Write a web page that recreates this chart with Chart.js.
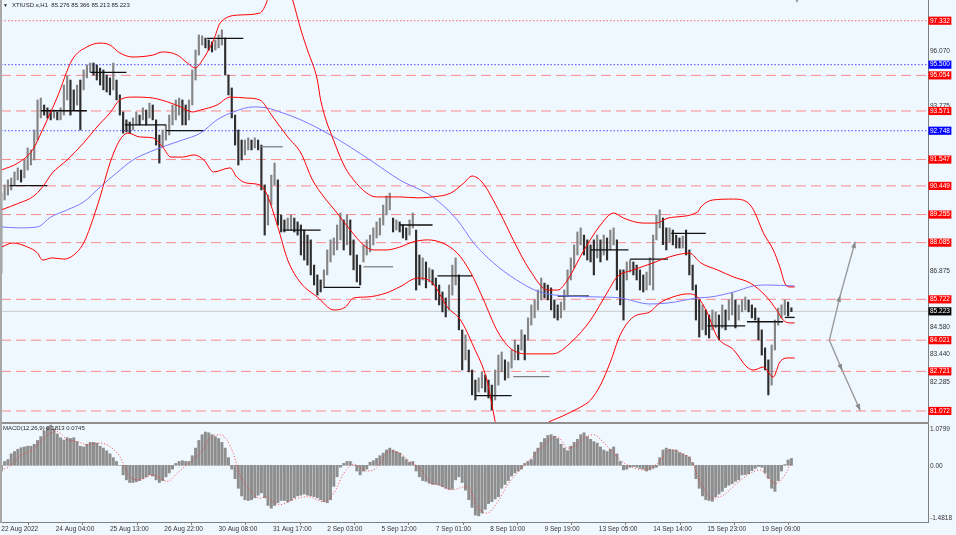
<!DOCTYPE html>
<html><head><meta charset="utf-8">
<script src="https://cdn.jsdelivr.net/npm/chart.js@4.4.1/dist/chart.umd.min.js"></script>
<style>
html,body{margin:0;padding:0;background:#f0f8ff;}
#wrap{position:relative;width:956px;height:535px;background:#f0f8ff;overflow:hidden;font-family:"Liberation Sans",Arial,sans-serif;}
canvas{position:absolute;left:0;}
#c1{top:0;}
#c2{top:424px;}
#sep{position:absolute;left:0;top:422px;width:929px;height:2px;background:#8f8f8f;}
#lb{position:absolute;left:0;top:0;width:2px;height:523px;background:#a8a8a8;}
#hdr{position:absolute;left:12px;top:1px;font-size:6px;line-height:8px;color:#1e1e1e;white-space:pre;}
#tri{position:absolute;left:3px;top:1px;font-size:5px;line-height:8px;color:#1e1e1e;}
#shift{position:absolute;left:794px;top:-3px;font-size:6px;line-height:8px;color:#a0a0a0;}
#mlab{position:absolute;left:3px;top:424px;font-size:6px;line-height:8px;color:#1e1e1e;white-space:pre;}
</style></head>
<body><div id="wrap">
<canvas id="c1" width="956" height="422"></canvas>
<canvas id="c2" width="956" height="111"></canvas>
<div id="sep"></div><div id="lb"></div>
<div id="tri">▼</div>
<div id="hdr">XTIUSD.s,H1  85.276 85.366 85.213 85.223</div>
<div id="shift">▼</div>
<div id="mlab">MACD(12,26,9) 0.1813 0.0745</div>
</div>
<script>
// ---- price bars (one bar every 2 hours, index t in H1 bars) ----
const barHigh = [
90.15,90.49,90.70,90.78,91.03,91.20,91.11,91.53,92.03,91.95,
92.78,94.03,94.11,93.82,93.70,93.61,93.61,93.53,93.70,94.65,
95.03,94.86,94.45,94.65,94.86,95.28,95.49,95.57,95.57,95.49,
95.36,95.28,95.07,94.95,95.57,94.86,94.24,93.53,93.20,93.11,
93.28,93.53,93.40,93.70,93.61,93.90,93.82,93.20,92.57,92.78,
92.99,93.40,93.82,94.03,94.11,94.03,93.82,94.03,95.28,96.11,
96.74,96.70,96.61,96.53,96.45,96.53,96.74,96.95,96.61,95.07,
94.53,93.40,92.78,92.36,92.36,92.45,92.36,92.45,92.36,92.15,
90.49,90.07,90.90,91.40,90.70,89.24,89.03,89.11,89.24,89.11,
88.95,88.82,88.61,88.40,88.20,87.15,86.74,86.53,86.95,87.78,
88.20,88.28,88.82,89.32,89.03,89.24,89.03,88.20,87.57,87.15,
87.99,88.20,88.40,88.70,88.95,89.11,89.65,90.03,90.15,89.11,
89.03,88.95,88.82,88.70,89.03,89.32,88.61,87.57,87.45,87.28,
87.03,86.95,86.61,86.32,86.03,85.78,86.32,87.15,87.45,86.74,
84.45,84.24,83.61,82.78,82.36,82.45,82.70,82.57,82.36,82.15,
82.78,83.40,83.53,83.20,83.11,83.61,84.03,83.82,84.45,84.24,
84.95,85.49,85.70,86.11,86.61,86.40,86.32,86.20,85.70,85.49,
85.61,86.11,86.95,87.45,87.99,88.53,88.70,88.40,88.20,87.99,
88.20,88.40,88.20,88.40,88.28,88.61,88.70,88.20,86.95,86.95,
87.28,87.36,87.28,87.15,86.95,86.74,86.86,87.45,88.40,89.24,
89.45,89.11,88.70,88.70,88.61,88.40,88.28,88.36,88.61,87.78,
87.15,86.32,85.70,85.49,85.28,85.07,85.28,85.20,85.07,85.49,
85.28,85.70,85.99,85.70,85.49,85.70,85.82,85.70,85.49,85.36,
84.95,84.45,83.70,83.20,83.82,84.86,85.36,85.49,85.70,85.61,
85.37];
const barLow = [
86.82,89.86,90.07,90.28,90.49,90.70,90.61,90.78,91.11,91.32,
91.53,92.36,93.28,93.40,93.28,93.20,93.28,93.20,93.20,93.40,
94.03,93.40,93.61,93.82,92.78,94.45,94.95,95.20,95.07,94.86,
94.65,94.45,94.36,94.24,94.45,94.03,93.40,92.65,92.70,92.65,
92.78,92.99,92.99,93.20,92.99,93.28,93.20,92.15,91.40,92.07,
92.36,92.57,92.99,93.20,93.40,92.99,92.99,93.20,93.82,94.86,
95.90,96.32,96.20,96.11,96.03,96.11,96.20,96.32,95.07,94.24,
93.28,92.15,91.32,91.53,91.74,91.95,91.95,92.03,91.95,90.28,
88.40,88.82,89.65,90.49,88.82,88.53,88.53,88.61,88.61,88.53,
88.40,87.57,87.36,87.15,86.74,86.32,85.90,86.03,86.20,86.74,
87.28,87.57,87.78,88.20,87.78,87.99,87.57,86.95,86.45,86.32,
87.28,87.57,87.70,87.99,88.28,88.40,88.82,89.24,89.45,88.53,
88.61,88.53,88.28,88.20,88.40,88.70,86.11,86.32,86.53,86.20,
86.45,86.32,85.70,85.49,85.20,84.99,85.28,85.90,86.32,84.45,
82.78,83.20,82.70,81.74,81.53,81.86,82.03,81.86,81.61,81.11,
81.53,82.15,82.70,82.36,82.45,82.86,83.20,83.20,83.61,83.20,
84.03,84.65,84.95,85.28,85.70,85.78,85.70,85.28,84.95,84.86,
84.95,85.28,85.90,86.53,87.03,87.57,87.99,87.57,87.36,87.28,
86.74,87.45,87.28,87.57,87.36,87.78,87.99,86.11,85.49,84.86,
86.53,86.86,86.74,86.53,86.11,86.03,86.11,86.32,86.11,88.20,
88.70,88.00,87.78,88.11,87.99,87.86,87.86,87.86,87.57,86.74,
86.11,84.86,84.15,84.45,84.24,84.11,84.45,84.53,84.03,84.53,
84.45,84.86,85.07,84.53,84.86,85.20,85.28,85.20,84.95,84.86,
84.03,83.40,82.78,81.74,82.15,83.61,84.65,84.95,85.07,85.03,
85.21];
const barTimes = barHigh.map((_, k) => 2 * k);

// ---- MACD histogram (same bar times) and signal ----
const macdHist = [
-0.15,0.1,0.15,0.3,0.36,0.42,0.46,0.48,0.5,0.5,
0.55,0.65,0.75,0.9,1.0,1.05,0.95,0.82,0.72,0.66,
0.72,0.7,0.72,0.62,0.5,0.48,0.55,0.6,0.6,0.58,
0.5,0.45,0.38,0.3,0.2,0.1,0.0,-0.25,-0.38,-0.45,
-0.45,-0.43,-0.4,-0.35,-0.3,-0.25,-0.28,-0.38,-0.45,-0.4,
-0.3,-0.2,-0.1,0.05,0.1,0.12,0.1,0.1,0.25,0.45,
0.65,0.8,0.87,0.85,0.8,0.75,0.7,0.6,0.45,0.2,
-0.1,-0.35,-0.6,-0.8,-0.9,-0.92,-0.9,-0.85,-0.78,-0.72,
-0.85,-1.05,-1.12,-1.05,-0.98,-0.92,-0.92,-0.96,-0.92,-0.85,
-0.8,-0.78,-0.75,-0.78,-0.8,-0.82,-0.85,-0.9,-0.95,-0.98,
-0.9,-0.55,-0.3,-0.05,0.05,0.1,0.1,0.0,-0.15,-0.25,
-0.15,-0.1,0.08,0.12,0.18,0.25,0.32,0.4,0.45,0.4,
0.36,0.32,0.22,0.15,0.08,0.1,-0.15,-0.3,-0.4,-0.42,
-0.47,-0.5,-0.5,-0.52,-0.56,-0.6,-0.63,-0.62,-0.38,-0.3,
-0.45,-0.65,-0.9,-1.1,-1.3,-1.32,-1.25,-1.15,-1.0,-0.95,
-0.88,-0.82,-0.6,-0.5,-0.4,-0.28,-0.2,-0.15,-0.1,0.05,
0.1,0.15,0.35,0.45,0.6,0.7,0.78,0.8,0.76,0.7,
0.55,0.45,0.38,0.5,0.6,0.68,0.8,0.85,0.75,0.68,
0.62,0.58,0.48,0.4,0.36,0.42,0.48,0.3,0.1,-0.12,
-0.1,-0.05,-0.03,-0.05,-0.08,-0.1,-0.15,-0.12,-0.08,-0.05,
0.2,0.4,0.45,0.42,0.4,0.4,0.33,0.3,0.26,0.22,
0.07,-0.35,-0.6,-0.8,-0.9,-0.92,-0.94,-0.82,-0.75,-0.68,
-0.58,-0.52,-0.48,-0.42,-0.38,-0.25,-0.24,-0.22,-0.14,-0.08,
-0.03,-0.05,-0.2,-0.34,-0.6,-0.68,-0.4,-0.15,0.02,0.14,
0.18];
const sigT = [0,5,11,19,25,30,34,40,46,52,60,66,72,78,84,92,101,107,115,121,127,133,137,141,145,151,157,161,165,169,177,186,196,202,208,214,222,228,236,242,248,254,260,266,274,283,289,295,301,307,315,323,331,338,344,350,354,360,364,370,376,382,390,399,407,413,419,425,432,439,447,455,461,467,471,476,480];
const sigV = [-0.12,-0.03,0.23,0.41,0.67,0.85,0.88,0.67,0.62,0.54,0.58,0.49,0.23,-0.29,-0.38,-0.25,-0.42,-0.2,0.10,0.32,0.71,0.80,0.67,0.30,-0.25,-0.65,-0.86,-0.82,-0.95,-1.03,-0.90,-0.82,-0.95,-0.73,-0.21,0.03,-0.15,-0.07,0.36,0.32,0.10,-0.07,-0.42,-0.51,-0.64,-0.55,-1.08,-1.25,-0.99,-0.55,-0.12,0.23,0.58,0.75,0.45,0.54,0.71,0.80,0.68,0.41,0.14,-0.03,-0.12,0.06,0.41,0.32,0.14,-0.47,-0.86,-0.77,-0.47,-0.21,-0.12,-0.38,-0.47,-0.25,0.0745];

// ---- Bollinger bands and moving average ----
const upperT = [0,10,19,25,34,43,52,60,66,72,80,92,98,107,113,118,121,129,133,145,157,161,166,172,177,182,186,192,194,203,209,214,222,228,242,253,262,273,281,286,292,303,311,321,332,338,344,353,364,372,378,390,398,405,423,425,432,445,453,457,463,469,473,476,479,482];
const upperV = [91.11,91.40,91.95,92.78,94.15,95.70,96.24,96.40,96.32,95.99,95.82,95.90,96.03,95.90,95.57,95.36,95.57,96.53,97.24,97.57,97.65,98.07,99.24,99.24,98.20,96.95,96.11,94.86,94.03,92.15,91.20,90.70,90.15,89.99,89.99,89.95,89.99,90.15,90.57,90.86,90.61,89.32,88.20,86.95,86.11,86.11,86.53,87.65,88.82,89.32,89.11,88.90,88.90,89.11,89.36,89.57,89.86,89.90,89.78,89.45,88.49,87.78,87.07,86.40,86.24,86.24];
const midT = [0,11,19,25,31,40,50,58,66,72,80,92,101,109,116,121,131,139,149,157,165,174,182,189,196,204,212,220,226,234,242,250,259,268,277,285,293,301,309,319,335,347,358,368,374,384,396,404,418,425,435,445,455,465,471,475,479,482];
const midV = [89.45,89.74,89.99,90.40,90.99,91.53,92.24,92.90,93.49,94.03,94.15,94.11,93.95,93.74,93.53,93.61,93.82,94.15,94.11,94.03,93.32,92.49,91.82,90.70,89.99,89.32,88.61,87.99,87.78,87.78,87.90,88.11,88.20,88.07,87.65,86.86,85.70,84.45,83.70,83.45,83.45,83.99,84.86,85.99,86.65,86.95,87.24,87.45,87.65,87.24,86.95,86.65,86.40,85.82,85.28,84.86,84.74,84.74];
const lowT = [0,7,16,22,25,31,38,44,50,54,60,66,72,77,84,92,98,103,110,117,123,129,139,143,149,157,161,168,174,182,192,202,209,214,222,234,242,253,262,271,279,287,295,299,303,310,319,330,341,352,358,364,370,376,384,394,400,408,417,423,429,435,445,453,457,463,469,473,478,482];
const lowV = [87.90,88.07,87.90,87.65,87.36,87.45,87.40,87.57,88.07,88.74,89.99,91.40,92.36,92.65,92.49,92.45,92.07,91.65,91.65,91.74,91.53,91.03,91.20,90.82,90.57,90.49,90.15,88.74,87.36,86.40,85.82,85.28,85.40,85.78,85.82,85.99,86.24,86.61,86.40,85.40,84.86,83.74,82.36,80.99,79.66,78.95,79.65,80.49,80.86,81.24,81.53,82.15,83.11,84.24,84.99,85.20,85.57,85.82,85.95,85.82,85.15,84.15,83.61,82.90,82.78,82.90,82.49,83.11,83.28,83.28];
const maT = [0,11,22,30,40,50,60,70,80,90,101,110,121,131,141,153,161,171,182,200,224,242,262,277,287,299,313,327,344,364,376,394,405,423,431,445,457,465,482];
const maV = [88.74,88.70,88.74,89.15,89.45,89.78,90.40,90.99,91.53,91.86,92.15,92.36,92.65,93.20,93.53,93.74,93.70,93.49,93.20,92.57,91.53,90.70,89.99,89.03,88.07,87.24,86.53,86.03,85.86,85.82,85.78,85.53,85.57,85.78,85.82,86.03,86.28,86.32,86.28];

// ---- daily level segments ----
const segStart = [5,24,54,75,100,125,157,171,196,220,242,265,288,311,338,358,382,407,429,453,476];
const segEnd   = [28,52,76,100,123,147,171,194,218,238,262,286,310,333,357,381,405,428,452,475,482];
const segLevel = [90.46,93.58,95.18,92.99,92.75,96.60,92.08,88.61,86.22,87.08,88.82,86.70,81.71,82.50,85.86,87.78,87.40,88.47,84.62,84.79,84.97];
const segGray  = [6,9,13];

// ---- horizontal levels ----
const redDashLevels = [95.054,93.571,91.547,90.449,89.255,88.085,85.722,84.021,82.721,81.072];
const redDotLevels = [97.332];
const blueDotLevels = [95.500,92.748];
const bidPrice = 85.223;
const plainPriceTicks = [96.070,93.775,86.875,84.580,83.440,82.285];

// ---- arrows ----
const arrowUpT = [503.1,509.6,518.7], arrowUpV = [84.02,85.87,88.11];
const arrowDnT = [503.1,510.8,521.7], arrowDnV = [84.02,82.78,81.11];

// ---- x axis ----
const xTickT = [0,33,66,99,132,165,198,231,264,297,330,363,396,429,462];
const xTickLabels = ["22 Aug 2022","24 Aug 04:00","25 Aug 13:00","26 Aug 22:00","30 Aug 08:00","31 Aug 17:00","2 Sep 03:00","5 Sep 12:00","7 Sep 01:00","8 Sep 10:00","9 Sep 19:00","13 Sep 05:00","14 Sep 14:00","15 Sep 23:00","19 Sep 09:00"];
const macdAxis = [1.0799, 0, -1.4818];
const macdAxisText = ["1.0799","0.00","-1.4818"];

const FAM = '"Liberation Sans", Arial, sans-serif';
const xMin = -0.2, xMax = 563;

const pts = (T, V) => T.map((t, i) => ({x: t, y: V[i]}));
const hLine = (v, color, dash, w) => ({type:'line', data:[{x:xMin,y:v},{x:xMax,y:v}], borderColor:color, borderWidth:w||1, borderDash:dash, pointRadius:0, order:10});
const curve = (T, V, color) => ({type:'line', data:pts(T,V), borderColor:color, borderWidth:1, pointRadius:0, cubicInterpolationMode:'monotone', order:1});

const datasets1 = [];
redDashLevels.forEach(v => datasets1.push(hLine(v, 'rgba(255,70,70,0.62)', [10,5])));
redDotLevels.forEach(v => datasets1.push(hLine(v, 'rgba(255,40,40,0.7)', [1.5,2])));
blueDotLevels.forEach(v => datasets1.push(hLine(v, 'rgba(40,40,255,0.85)', [1.5,2])));
datasets1.push(hLine(bidPrice, '#c8c8c8', []));
datasets1.push({type:'bar', data: barTimes.map((t,k)=>({x:t, y:[barLow[k], barHigh[k]]})),
  barThickness:1.5, borderWidth:0, order:3,
  backgroundColor: c => { const k = c.dataIndex; if (k > 0 && barHigh[k]+barLow[k] < barHigh[k-1]+barLow[k-1]) return '#2e2e2e'; return '#858585'; }});
segStart.forEach((s,i) => datasets1.push({type:'line', data:[{x:s,y:segLevel[i]},{x:segEnd[i],y:segLevel[i]}],
  borderColor: segGray.includes(i) ? '#808080' : '#111', borderWidth:1.3, pointRadius:0, order:2}));
datasets1.push(curve(upperT, upperV, '#ff0000'));
datasets1.push(curve(midT, midV, '#ff0000'));
datasets1.push(curve(lowT, lowV, '#ff0000'));
datasets1.push(curve(maT, maV, '#7878ff'));
[[arrowUpT,arrowUpV],[arrowDnT,arrowDnV]].forEach(([T,V]) => datasets1.push({type:'line', data:pts(T,V), borderColor:'#9a9a9a', borderWidth:1.4, pointRadius:0, order:0, arrowHeads:true}));

const labelStyle = v => {
  if (Math.abs(v - bidPrice) < 1e-6) return {bg:'#000', fg:'#fff', box:true};
  if (redDashLevels.concat(redDotLevels).some(l => Math.abs(l - v) < 1e-6)) return {bg:'#ff0000', fg:'#fff', box:true};
  if (blueDotLevels.some(l => Math.abs(l - v) < 1e-6)) return {bg:'#0000ff', fg:'#fff', box:true};
  return {bg:'rgba(0,0,0,0)', fg:'#333', box:false};
};
const yTickOrder = plainPriceTicks.concat(redDotLevels, blueDotLevels, redDashLevels, [bidPrice]);

const arrowPlugin = {
  id:'arrows',
  afterDatasetsDraw(chart) {
    const ctx = chart.ctx;
    chart.data.datasets.forEach((ds, i) => {
      if (!ds.arrowHeads) return;
      const p = chart.getDatasetMeta(i).data;
      const a = Math.atan2(p[2].y - p[0].y, p[2].x - p[0].x);
      ctx.save(); ctx.fillStyle = '#8a8a8a';
      [1,2].forEach(j => {
        ctx.save(); ctx.translate(p[j].x, p[j].y); ctx.rotate(a);
        ctx.beginPath(); ctx.moveTo(1,0); ctx.lineTo(-6,-2.4); ctx.lineTo(-6,2.4); ctx.closePath(); ctx.fill();
        ctx.restore();
      });
      ctx.restore();
    });
  }
};

new Chart(document.getElementById('c1'), {
  type:'line',
  data:{datasets:datasets1},
  plugins:[arrowPlugin],
  options:{
    responsive:false, animation:false, devicePixelRatio:1, events:[],
    layout:{padding:{left:1,top:0,right:0,bottom:0}},
    plugins:{legend:{display:false}, tooltip:{enabled:false}},
    scales:{
      x:{type:'linear', min:xMin, max:xMax, display:false, offset:false},
      y:{type:'linear', position:'right', min:80.612, max:98.195, bounds:'data',
        afterBuildTicks(s){ s.ticks = yTickOrder.map(v => ({value:v})); },
        afterFit(s){ s.width = 28; s.paddingTop = 0; s.paddingBottom = 0; },
        grid:{display:false, drawTicks:false},
        border:{display:true, color:'#7f7f7f', width:1},
        ticks:{autoSkip:false, padding:2, font:{size:6.5, family:FAM, lineHeight:1.1},
          callback:v => Number(v).toFixed(3),
          color:c => labelStyle(c.tick.value).fg,
          showLabelBackdrop:c => labelStyle(c.tick.value).box,
          backdropColor:c => labelStyle(c.tick.value).bg,
          backdropPadding:{x:1.5, y:0.5}}
      }
    }
  }
});

const macdAxisPlugin = {
  id:'macdAxis',
  afterDraw(chart) {
    const ctx = chart.ctx, s = chart.scales.y;
    ctx.save(); ctx.font = '6.5px ' + FAM; ctx.fillStyle = '#333'; ctx.textAlign = 'left';
    macdAxis.forEach((v, i) => {
      ctx.textBaseline = i === 0 ? 'top' : (i === 1 ? 'middle' : 'bottom');
      const off = i === 0 ? 2 : (i === 1 ? 1 : -1);
      ctx.fillText(macdAxisText[i], s.left + 2, s.getPixelForValue(v) + off);
    });
    ctx.restore();
  }
};

new Chart(document.getElementById('c2'), {
  type:'line',
  data:{datasets:[
    {type:'bar', data:barTimes.map((t,k)=>({x:t, y:macdHist[k]})), barThickness:2.3, borderWidth:0, backgroundColor:'#8e8e8e', order:2},
    {type:'line', data:pts(sigT, sigV), borderColor:'rgba(255,40,40,0.85)', borderWidth:1, borderDash:[1,2], pointRadius:0, cubicInterpolationMode:'monotone', order:1}
  ]},
  plugins:[macdAxisPlugin],
  options:{
    responsive:false, animation:false, devicePixelRatio:1, events:[],
    layout:{padding:{left:1,top:0,right:0,bottom:0}},
    plugins:{legend:{display:false}, tooltip:{enabled:false}},
    scales:{
      x:{type:'linear', min:xMin, max:xMax, offset:false, position:'bottom',
        afterBuildTicks(s){ s.ticks = xTickT.map(v => ({value:v})); },
        afterFit(s){ s.height = 13; s.paddingLeft = 0; s.paddingRight = 0; },
        grid:{display:true, drawOnChartArea:false, drawTicks:true, tickLength:3, color:'#808080'},
        border:{display:true, color:'#808080', width:1},
        ticks:{autoSkip:false, maxRotation:0, minRotation:0, align:'start', padding:0,
          font:{size:6.5, family:FAM}, color:'#333', callback:(v,i) => xTickLabels[i]}
      },
      y:{type:'linear', position:'right', min:-1.4818, max:1.0799,
        afterFit(s){ s.width = 28; s.paddingTop = 0; s.paddingBottom = 0; },
        grid:{display:false}, ticks:{display:false},
        border:{display:true, color:'#7f7f7f', width:1}
      }
    }
  }
});
</script>
</body></html>
